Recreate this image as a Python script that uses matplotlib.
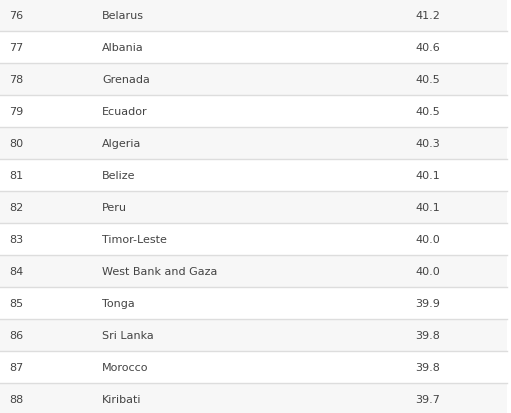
import matplotlib
matplotlib.use("Agg")
import matplotlib.pyplot as plt

ranks = [76, 77, 78, 79, 80, 81, 82, 83, 84, 85, 86, 87, 88]
countries = ["Belarus", "Albania", "Grenada", "Ecuador", "Algeria", "Belize", "Peru",
             "Timor-Leste", "West Bank and Gaza", "Tonga", "Sri Lanka", "Morocco", "Kiribati"]
values = [41.2, 40.6, 40.5, 40.5, 40.3, 40.1, 40.1, 40.0, 40.0, 39.9, 39.8, 39.8, 39.7]

W, H = 511, 414
RH = 32
fig = plt.figure(figsize=(W/100, H/100), dpi=100)
ax = fig.add_axes([0, 0, 1, 1])
ax.set_xlim(0, W)
ax.set_ylim(H, 0)
ax.axis("off")

for i, (r, c, v) in enumerate(zip(ranks, countries, values)):
    top = i * RH
    if i % 2 == 0:
        ax.axhspan(top, top + RH, xmin=0, xmax=507/W, color="#f7f7f7", lw=0)
    ax.plot([0, 507], [top + RH, top + RH], color="#dddddd", lw=1)
    yc = top + RH / 2
    kw = dict(va="center", ha="left", fontsize=8, color="#444444", family="DejaVu Sans")
    ax.text(9, yc, str(r), **kw)
    ax.text(102, yc, c, **kw)
    ax.text(415, yc, f"{v:.1f}", **kw)

fig.savefig("out.png", dpi=100)
